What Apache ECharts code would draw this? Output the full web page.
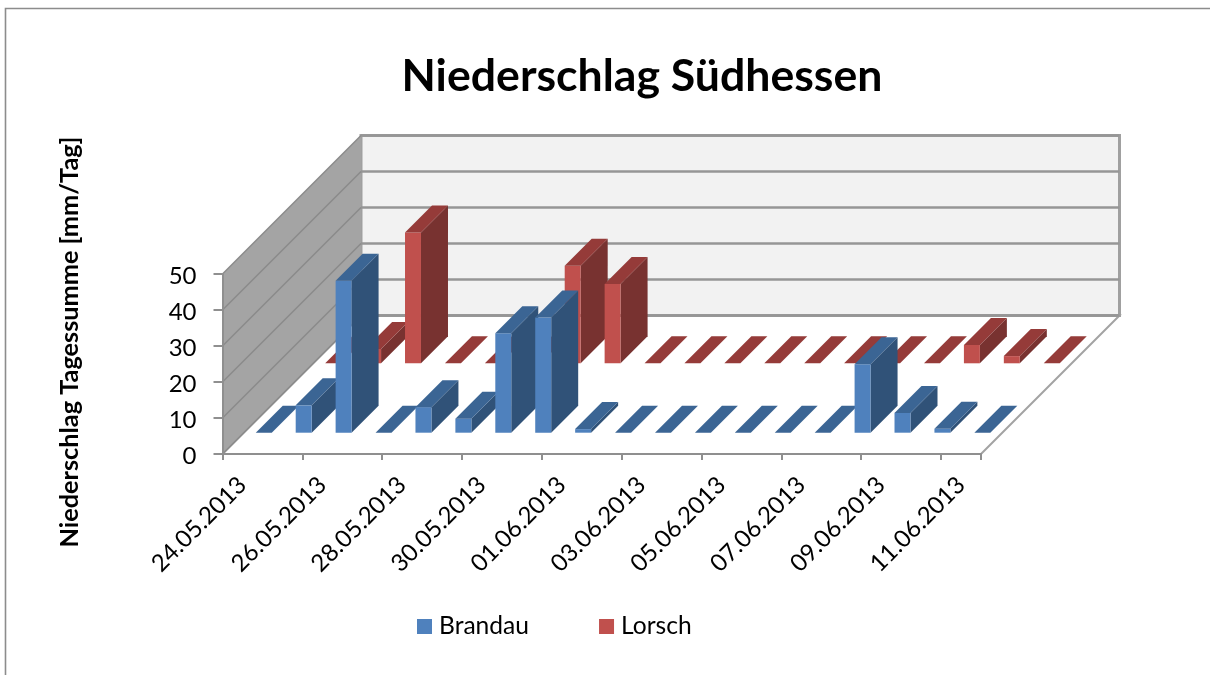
<!DOCTYPE html>
<html>
<head>
<meta charset="utf-8">
<style>html,body{margin:0;padding:0;background:#fff}#c{width:1210px;height:675px}</style>
<script src="https://cdn.jsdelivr.net/npm/echarts@6/dist/echarts.min.js"></script>
</head>
<body>
<div id="c"></div>
<script>
var categories = ['24.05.2013','25.05.2013','26.05.2013','27.05.2013','28.05.2013','29.05.2013','30.05.2013','31.05.2013','01.06.2013','02.06.2013','03.06.2013','04.06.2013','05.06.2013','06.06.2013','07.06.2013','08.06.2013','09.06.2013','10.06.2013','11.06.2013'];
var brandau = [0, 7.6, 42.2, 0, 7.1, 3.9, 27.6, 32, 1, 0, 0, 0, 0, 0, 0, 19, 5.5, 1.1, 0];
var lorsch  = [0, 4, 36.3, 0, 0, 0, 27.1, 22, 0, 0, 0, 0, 0, 0, 0, 0, 5.1, 2, 0];
var yTicks = [0, 10, 20, 30, 40, 50];

var FONT = 'Lato';
var DEPTH = 138.5;      // oblique depth of the floor, px
var BAR_DEPTH = 27;

function pts(list) { return list.map(function (p) { return [p[0], p[1]]; }); }
function poly(points, fill, stroke, lw) {
  return { type: 'polygon', shape: { points: pts(points) },
    style: { fill: fill, stroke: stroke || null, lineWidth: lw || 0 } };
}

function renderWalls(params, api) {
  var cs = params.coordSys;
  var x0 = cs.x, x1 = cs.x + cs.width;
  var y0 = api.coord([0, 0])[1], yMax = api.coord([0, 50])[1];
  var d = DEPTH;
  var children = [];
  // floor
  children.push(poly([[x0, y0], [x1, y0], [x1 + d, y0 - d], [x0 + d, y0 - d]], '#ffffff', '#a3a3a3', 2));
  // back wall
  children.push(poly([[x0 + d, y0 - d], [x1 + d, y0 - d], [x1 + d, yMax - d], [x0 + d, yMax - d]], '#f2f2f2', '#a0a0a0', 3));
  // left wall
  children.push(poly([[x0, y0], [x0, yMax], [x0 + d, yMax - d], [x0 + d, y0 - d]], '#a4a4a4', null, 0));
  yTicks.forEach(function (t) {
    var y = api.coord([0, t])[1];
    children.push({ type: 'line', shape: { x1: x0 + d, y1: y - d, x2: x1 + d, y2: y - d },
      style: { stroke: '#969696', lineWidth: 2.6 } });
    children.push({ type: 'line', shape: { x1: x0, y1: y, x2: x0 + d, y2: y - d },
      style: { stroke: '#8a8a8a', lineWidth: 1.4 } });
  });
  return { type: 'group', children: children };
}

function makeBars(shift, front, top, side) {
  return function (params, api) {
    var band = api.size([1, 0])[0];
    var w = band * 0.4;
    var val = api.value(1);
    var base = api.coord([api.value(0), 0]);
    var head = api.coord([api.value(0), val]);
    var l = base[0] - w / 2 + shift, r = l + w;
    var b = base[1] - shift, t = head[1] - shift;
    var d = BAR_DEPTH;
    var children = [];
    if (val > 0) {
      children.push(poly([[r, b], [r, t], [r + d, t - d], [r + d, b - d]], side));
      children.push(poly([[l, b], [r, b], [r, t], [l, t]], front));
    }
    children.push(poly([[l, t], [r, t], [r + d, t - d], [l + d, t - d]], top));
    return { type: 'group', children: children };
  };
}

var chart = echarts.init(document.getElementById('c'), null, { renderer: 'canvas' });
chart.setOption({
  animation: false,
  backgroundColor: '#ffffff',
  textStyle: { fontFamily: FONT },
  title: {
    text: 'Niederschlag Südhessen',
    left: 637, top: 49, textAlign: 'center',
    textStyle: { fontFamily: FONT, fontWeight: 'bold', fontSize: 44.6, color: '#000' }
  },
  legend: {
    left: 417, top: 614, padding: 0, itemWidth: 15, itemHeight: 15, itemGap: 70,
    icon: 'rect',
    data: ['Brandau', 'Lorsch'],
    textStyle: { fontFamily: FONT, fontSize: 24.6, color: '#000', padding: [0, 0, 0, 2] }
  },
  grid: { left: 222.5, top: 274, width: 758.5, height: 180, containLabel: false },
  xAxis: {
    type: 'category', data: categories, z: 5,
    axisLine: { show: true, lineStyle: { color: '#8f8f8f', width: 2.2 } },
    axisTick: { show: true, interval: 1, length: 6, lineStyle: { color: '#8f8f8f', width: 2 } },
    axisLabel: { interval: 1, rotate: 45, fontFamily: FONT, fontSize: 24, color: '#000', margin: 27 }
  },
  yAxis: {
    type: 'value', min: 0, max: 50, interval: 10, z: 5,
    name: 'Niederschlag Tagessumme [mm/Tag]',
    nameLocation: 'middle', nameGap: 140, nameRotate: 90,
    nameTextStyle: { fontFamily: FONT, fontWeight: 'bold', fontSize: 25.3, color: '#000', padding: [0, 0, 0, 44] },
    axisLine: { show: true, lineStyle: { color: '#8f8f8f', width: 2 } },
    axisTick: { show: true, length: 9, lineStyle: { color: '#8f8f8f', width: 2 } },
    axisLabel: { fontFamily: FONT, fontSize: 24, color: '#000', margin: 26,
      formatter: '{a|{value}}',
      rich: { a: { fontFamily: FONT, fontSize: 24, color: '#000', padding: [4, 0, 0, 0] } } },
    splitLine: { show: false }
  },
  graphic: [{
    type: 'polyline', silent: true, z: -1,
    shape: { points: [[5.5, 675], [5.5, 8.5], [1210, 8.5]] },
    style: { fill: null, stroke: '#8c8c8c', lineWidth: 1.6 }
  }],
  series: [
    { type: 'custom', name: 'walls', z: 1, silent: true, renderItem: renderWalls, data: [[0, 0]], encode: { x: 0, y: 1 } },
    { type: 'custom', name: 'Lorsch', z: 2, itemStyle: { color: '#c0504d' },
      renderItem: makeBars(90.7, '#c0504d', '#953b39', '#783230'),
      data: categories.map(function (c, i) { return [i, lorsch[i]]; }), encode: { x: 0, y: 1 } },
    { type: 'custom', name: 'Brandau', z: 3, itemStyle: { color: '#4f81bd' },
      renderItem: makeBars(21.3, '#4f81bd', '#3b6594', '#305278'),
      data: categories.map(function (c, i) { return [i, brandau[i]]; }), encode: { x: 0, y: 1 } }
  ]
});
</script>
</body>
</html>
